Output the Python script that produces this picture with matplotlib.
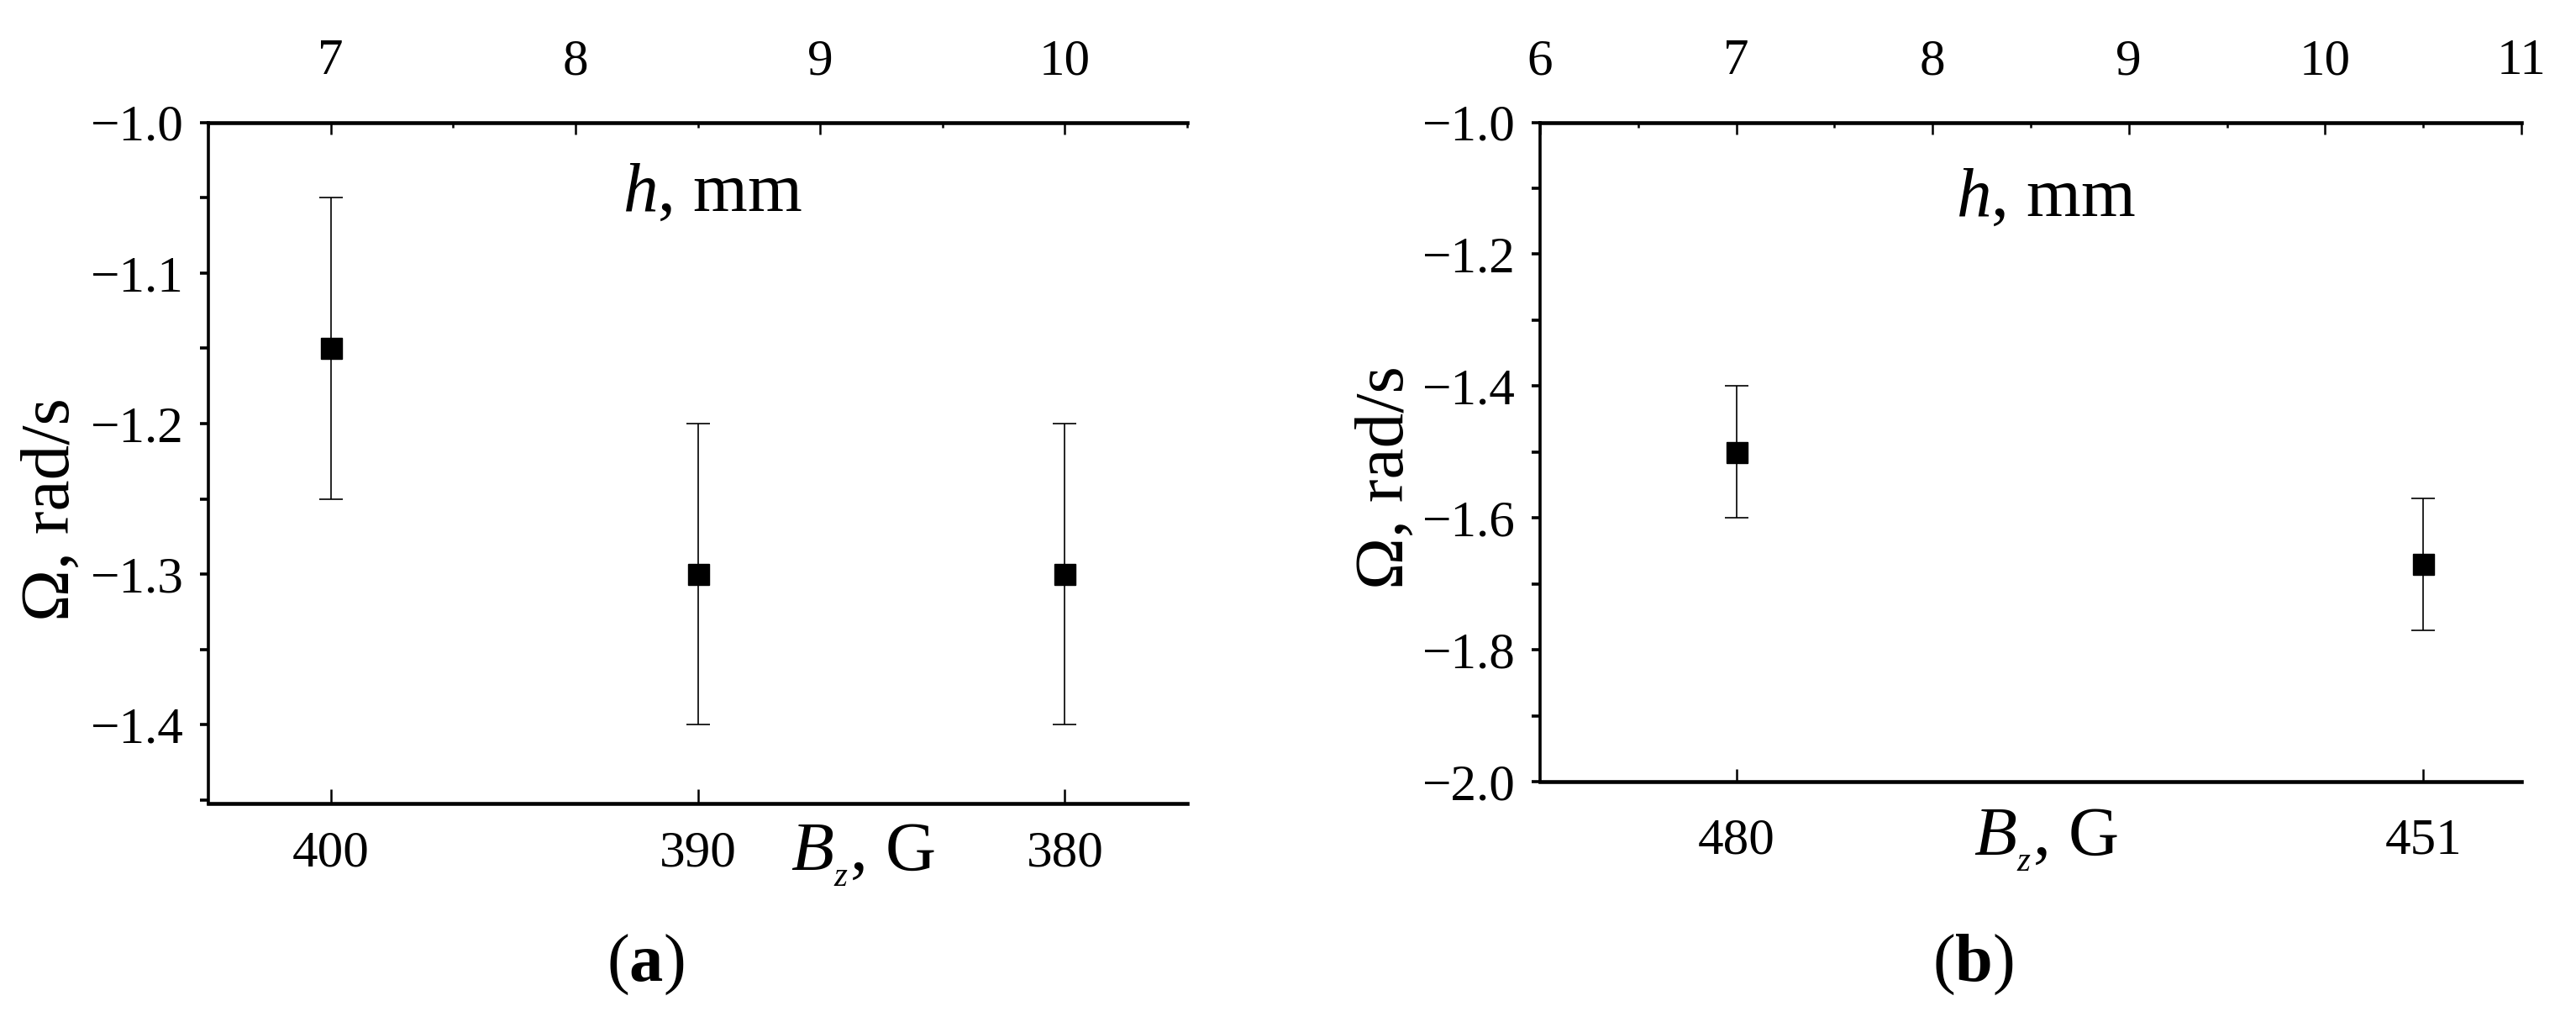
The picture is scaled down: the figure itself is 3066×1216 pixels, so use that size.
import matplotlib
matplotlib.use("Agg")
import matplotlib.pyplot as plt
from matplotlib.ticker import MultipleLocator

plt.rcParams['font.family'] = ['Liberation Serif', 'DejaVu Serif']
plt.rcParams['mathtext.fontset'] = 'custom'
plt.rcParams['mathtext.rm'] = 'Liberation Serif'
plt.rcParams['mathtext.it'] = 'Liberation Serif:italic'
plt.rcParams['mathtext.bf'] = 'Liberation Serif:bold'

# panel (a)
h_a = [7.0, 8.5, 10.0]
omega_a = [-1.15, -1.30, -1.30]
err_a = [0.10, 0.10, 0.10]
bz_a = ['400', '390', '380']
top_ticks_a = [7, 8, 9, 10]

# panel (b)
h_b = [7.0, 10.5]
omega_b = [-1.50, -1.67]
err_b = [0.10, 0.10]
bz_b = ['480', '451']
top_ticks_b = [6, 7, 8, 9, 10, 11]

W, H = 3066, 1216
fig = plt.figure(figsize=(W / 100, H / 100), dpi=100)

TICK_FS = 44
LABEL_FS = 60


def panel(rect, h, omega, err, bz, top_ticks, xlim, ylim, ymajor, yminor,
          bot_len, bot_pad, lab_y):
    ax = fig.add_axes(rect)
    ax.errorbar(h, omega, yerr=err, fmt='s', color='black', ms=18,
                elinewidth=1.2, capsize=10, capthick=1.2)
    ax.set_xlim(*xlim)
    ax.set_ylim(*ylim)

    ax.spines['right'].set_visible(False)
    ax.spines['top'].set_linewidth(3.3)
    ax.spines['bottom'].set_linewidth(3.3)
    ax.spines['left'].set_linewidth(2.6)

    # bottom axis: B_z values at the measured heights
    ax.set_xticks(h)
    ax.set_xticklabels(bz)
    ax.tick_params(axis='x', which='major', direction='in', length=bot_len,
                   width=1.8, pad=bot_pad, labelsize=TICK_FS)

    # left axis
    ax.yaxis.set_major_locator(MultipleLocator(ymajor))
    ax.yaxis.set_minor_locator(MultipleLocator(yminor))
    ax.yaxis.set_major_formatter(plt.FuncFormatter(
        lambda v, p: ('%.1f' % v).replace('-', '\u2212')))
    ax.tick_params(axis='y', which='both', direction='out', length=7,
                   width=2.6, pad=14, labelsize=TICK_FS)

    # top axis: h, mm
    tx = ax.twiny()
    tx.set_xlim(*xlim)
    tx.set_xticks(top_ticks)
    tx.xaxis.set_minor_locator(MultipleLocator(0.5))
    tx.tick_params(axis='x', which='major', direction='in', length=10,
                   width=1.8, pad=32, labelsize=TICK_FS)
    tx.tick_params(axis='x', which='minor', direction='in', length=4,
                   width=1.8)
    for s in tx.spines.values():
        s.set_visible(False)

    ax.text(0.515, lab_y, r'$h$, mm', transform=ax.transAxes,
            ha='center', va='baseline', fontsize=LABEL_FS)
    return ax


ax_a = panel([248 / W, 1 - 955.6 / H, 1165 / W, 810 / H],
             h_a, omega_a, err_a, bz_a, top_ticks_a,
             (6.5, 10.5), (-1.452, -1.0), 0.1, 0.05, 12, 23, 0.87)
ax_b = panel([1833 / W, 1 - 930 / H, 1168 / W, 784.5 / H],
             h_b, omega_b, err_b, bz_b, top_ticks_b,
             (6.0, 11.0), (-2.0, -1.0), 0.2, 0.1, 11, 31, 0.858)

# B_z labels sit between the bottom tick labels
fig.text(1027 / W, 1 - 1036 / H, r'$B_{_z}$, G', ha='center', va='baseline',
         fontsize=LABEL_FS)
fig.text(2435 / W, 1 - 1018 / H, r'$B_{_z}$, G', ha='center', va='baseline',
         fontsize=LABEL_FS)

# Omega labels
fig.text(62 / W, 1 - 606 / H, '\u03a9, rad/s', rotation=90, ha='center',
         va='center', fontsize=LABEL_FS)
fig.text(1650 / W, 1 - 568 / H, '\u03a9, rad/s', rotation=90, ha='center',
         va='center', fontsize=LABEL_FS)

# panel captions
fig.text(768 / W, 1 - 1148 / H, r'($\mathbf{a}$)', ha='center', va='center',
         fontsize=58)
fig.text(2348 / W, 1 - 1148 / H, r'($\mathbf{b}$)', ha='center', va='center',
         fontsize=58)

fig.savefig('out.png', dpi=100)
